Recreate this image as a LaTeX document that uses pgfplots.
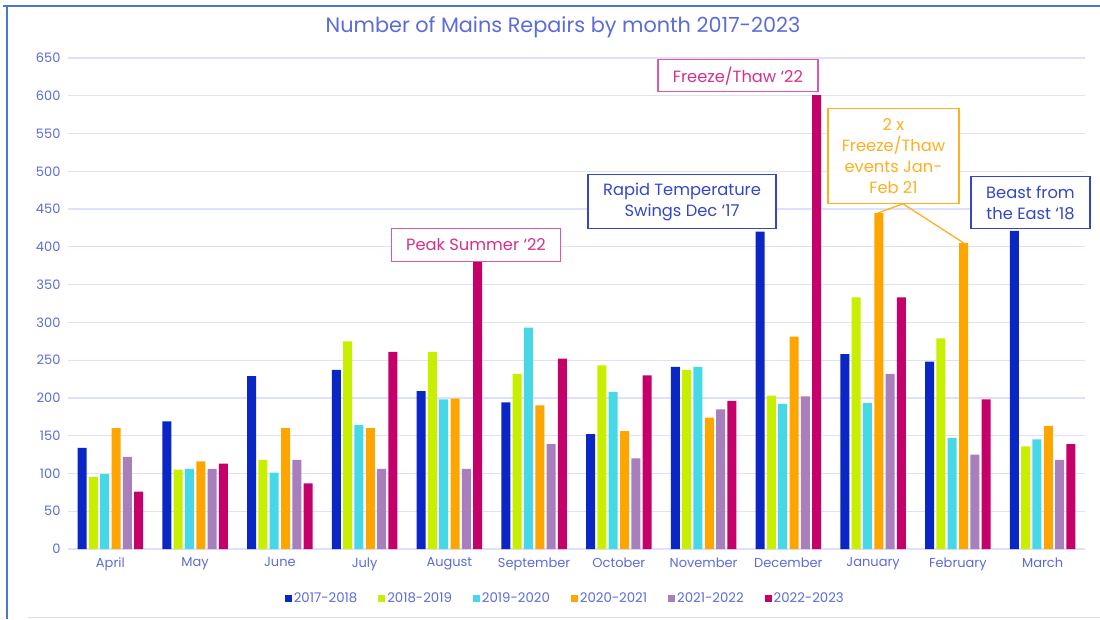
\documentclass[border=0pt]{standalone}
\usepackage{pgfplots}
\pgfplotsset{compat=1.18}
\usepackage{pgfplotstable}
\usepackage{fontspec}
\setmainfont{Poppins}

\definecolor{cA}{HTML}{0A26C4}
\definecolor{cB}{HTML}{C8EE00}
\definecolor{cC}{HTML}{46D8E6}
\definecolor{cD}{HTML}{FFA500}
\definecolor{cE}{HTML}{A87EBC}
\definecolor{cF}{HTML}{C5006B}
\definecolor{txtblue}{HTML}{5B6BDB}
\definecolor{gridc}{HTML}{DDE1FA}
\definecolor{annblue}{HTML}{3347C8}
\definecolor{annpink}{HTML}{D6308A}
\definecolor{annorange}{HTML}{FFB020}
\definecolor{frameblue}{HTML}{4A78CC}

% repairs per month, one column per financial year
\pgfplotstableread{
idx a b c d e f
0 134 95 99 160 122 76
1 169 105 106 116 106 113
2 229 118 101 160 118 87
3 237 275 164 160 106 261
4 209 261 198 199 106 383
5 194 232 293 190 139 252
6 152 243 208 156 120 230
7 241 237 241 174 185 196
8 420 203 192 281 202 601
9 258 333 193 445 232 333
10 248 279 147 405 125 198
11 421 136 145 163 118 139
}\repairs

\pgfplotsset{ybar legend/.style={legend image code/.code={\fill[##1] (0pt,-3.5pt) rectangle (7pt,3.5pt);}}}

\begin{document}
\begin{tikzpicture}
\path[use as bounding box] (0,0) rectangle (1100pt,619pt);
\draw[frameblue, line width=2pt] (7pt,0) -- (7pt,613pt);
\draw[frameblue, line width=2pt] (3pt,613pt) -- (1100pt,613pt);
\draw[gray!25, line width=1pt] (28pt,1.5pt) -- (1100pt,1.5pt);
\node[txtblue, font=\fontsize{20.8}{24}\selectfont] at (563pt,592pt) {Number of Mains Repairs by month 2017-2023};

\begin{axis}[
    at={(68pt,70pt)}, anchor=south west,
    scale only axis,
    width=1017pt, height=491pt,
    ybar=2.3pt, bar width=9pt,
    xmin=-0.5, xmax=11.5,
    ymin=0, ymax=650,
    ytick={0,50,...,650},
    xtick={0,...,11},
    xticklabels={April,May,June,July,August,September,October,November,December,January,February,March},
    major tick length=0pt,
    axis line style={draw=none},
    ymajorgrids,
    grid style={gridc, line width=1.2pt},
    tick label style={txtblue, font=\fontsize{13}{15}\selectfont},
    /pgf/number format/assume math mode=true,
    xticklabel style={yshift=-5pt},
    yticklabel style={xshift=-4pt},
    legend style={at={(0.489,-0.0998)}, anchor=center, draw=none, fill=none,
        font=\fontsize{13.3}{15}\selectfont, text=txtblue,
        /tikz/every even column/.append style={column sep=19pt}},
    legend columns=6,
    clip=false,
]
\addplot[fill=cA, draw=none] table[x=idx, y=a] {\repairs};
\addplot[fill=cB, draw=none] table[x=idx, y=b] {\repairs};
\addplot[fill=cC, draw=none] table[x=idx, y=c] {\repairs};
\addplot[fill=cD, draw=none] table[x=idx, y=d] {\repairs};
\addplot[fill=cE, draw=none] table[x=idx, y=e] {\repairs};
\addplot[fill=cF, draw=none] table[x=idx, y=f] {\repairs};
\legend{2017-2018,2018-2019,2019-2020,2020-2021,2021-2022,2022-2023}

% annotations
\tikzset{ann/.style={fill=white, line width=1.3pt, align=center, inner sep=0pt,
    font=\fontsize{16.3}{21}\selectfont}}
\node[ann, draw=annpink!80, text=annpink, minimum width=169pt, minimum height=33pt] at (axis cs:4.314,402.6) {Peak Summer ‘22};
\node[ann, draw=annpink!80, text=annpink, minimum width=160pt, minimum height=32pt] at (axis cs:7.405,626.5) {Freeze/Thaw ‘22};
\node[ann, draw=annblue, text=annblue, minimum width=188pt, minimum height=54pt] at (axis cs:6.745,459.6) {Rapid Temperature\\Swings Dec ‘17};
\node[ann, draw=annblue, text=annblue, minimum width=119pt, minimum height=52pt] at (axis cs:10.857,458.3) {Beast from\\the East ‘18};
\node[ann, draw=annorange, text=annorange, minimum width=131pt, minimum height=95pt] at (axis cs:9.24,519.9) {2 x\\Freeze/Thaw\\events Jan-\\Feb 21};
\draw[annorange, line width=1.3pt] (axis cs:9.06,445) -- (axis cs:9.352,457) -- (axis cs:10.07,405);
\end{axis}
\end{tikzpicture}
\end{document}
